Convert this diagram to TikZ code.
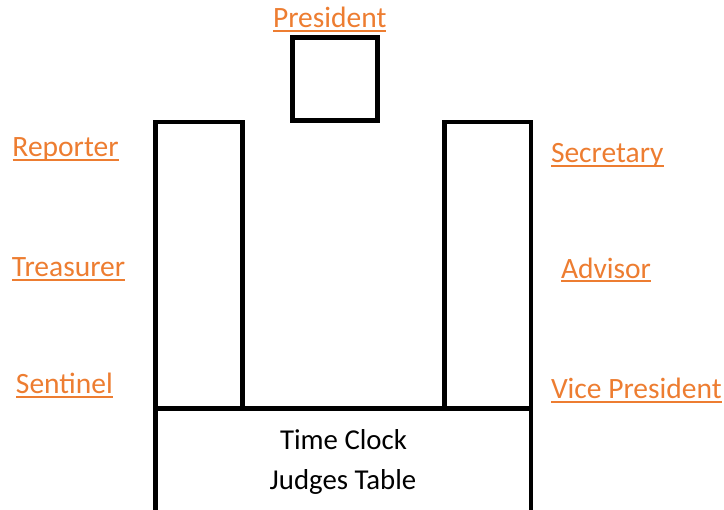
\documentclass[tikz,border=0pt]{standalone}
\usepackage{fontspec}
\setmainfont{Carlito}
\definecolor{office}{HTML}{ED7D31}
\begin{document}
\begin{tikzpicture}[x=1pt,y=1pt,
  wall/.style={draw=black, line width=4.8pt, fill=none, inner sep=0pt, outer sep=0pt},
  role/.style={anchor=base west, inner sep=0pt, outer sep=0pt, text=office, font=\fontsize{29.5}{31}\selectfont},
  tabletext/.style={anchor=base, inner sep=0pt, font=\fontsize{28.8}{30}\selectfont},
  uline/.style={draw=office, line width=2pt}]
\useasboundingbox (0,0) rectangle (724,-510);
\clip (0,0) rectangle (724,-510);
% boxes
\node[wall, minimum width=85pt, minimum height=83pt] (pres) at (335,-79) {};
\node[wall, minimum width=87pt, minimum height=287pt] (left) at (199,-265.5) {};
\node[wall, minimum width=86.3pt, minimum height=287pt] (right) at (487.85,-265.5) {};
\node[wall, minimum width=375.5pt, minimum height=120pt] (judges) at (343.25,-468.8) {};
% table text
\node[tabletext] (clock) at (343.5,-449.3) {Time Clock};
\node[tabletext] (jt) at (343,-490) {Judges Table};
% role labels
\node[role] (lpres) at (273,-28) {President};
\node[role] (lrep) at (12.5,-156.7) {Reporter};
\node[role] (ltre) at (12,-276.7) {Treasurer};
\node[role] (lsen) at (16,-394) {Sentinel};
\node[role] (lsec) at (551,-162.5) {Secretary};
\node[role] (ladv) at (561,-278.3) {Advisor};
\node[role] (lvp) at (551,-398.5) {Vice President};
\foreach \n in {lpres,lrep,ltre,lsen,lsec,ladv,lvp}{
  \draw[uline] ([yshift=-3.2pt]\n.base west) -- ([yshift=-3.2pt]\n.base east);
}
\end{tikzpicture}
\end{document}
